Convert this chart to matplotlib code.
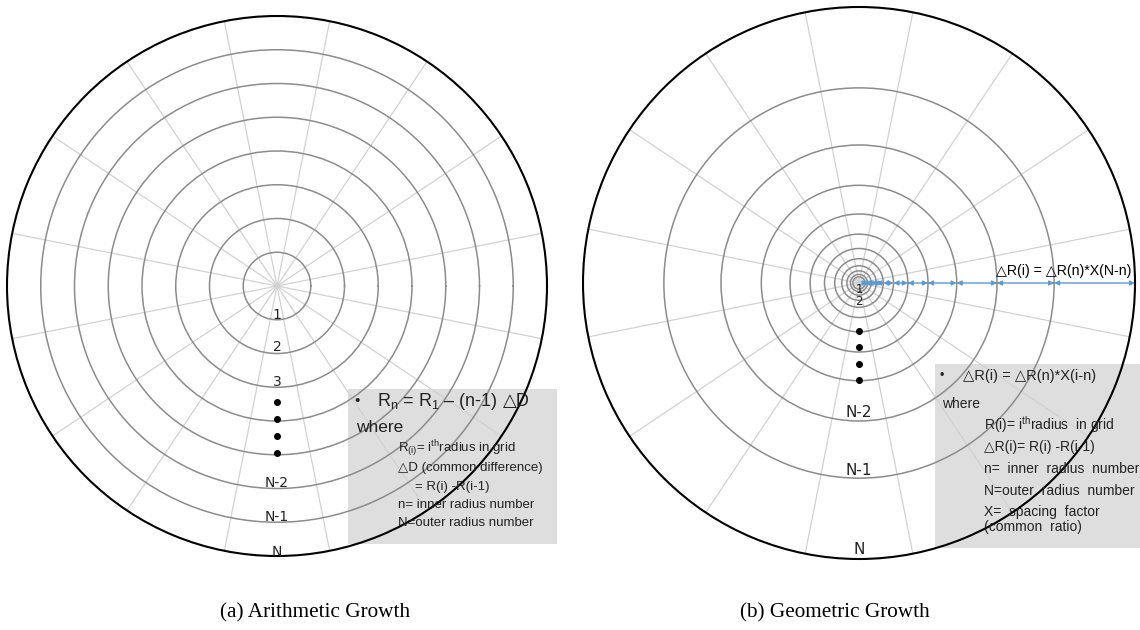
import numpy as np
import matplotlib
matplotlib.use("Agg")
import matplotlib.pyplot as plt
from matplotlib.patches import Rectangle

plt.rcParams['font.family'] = ['Liberation Sans', 'DejaVu Sans']
plt.rcParams['mathtext.fontset'] = 'custom'
plt.rcParams['mathtext.rm'] = 'Liberation Sans'
plt.rcParams['mathtext.it'] = 'Liberation Sans:italic'

W, H = 1140, 630

# 16 radial spokes, offset half a sector from the axes
spoke_angles = [11.25, 33.75, 56.25, 78.75, 101.25, 123.75, 146.25, 168.75,
                191.25, 213.75, 236.25, 258.75, 281.25, 303.75, 326.25, 348.75]

# (a) arithmetic grid: equal spacing, outer boundary at 8
arith_rings = [1, 2, 3, 4, 5, 6, 7]
arith_outer = 8
arith_labels = ['1', '2', '3', 'N-2', 'N-1', 'N']
arith_label_r = [0.86, 1.82, 2.83, 5.83, 6.85, 7.89]
arith_dots_r = [3.45, 3.93, 4.43, 4.94]

# (b) geometric grid: each ring ~0.707 of the next one out
geo_rings = [0.707, 0.5, 0.354, 0.25, 0.177, 0.125, 0.088, 0.0625, 0.044, 0.031, 0.022]
geo_outer = 1.0
geo_labels = ['1', '2', 'N-2', 'N-1', 'N']
geo_label_r = [0.025, 0.066, 0.47, 0.68, 0.964]
geo_label_size = [8.5, 8.5, 11, 11, 11]
geo_dots_r = [0.174, 0.232, 0.293, 0.351]

SPOKE_C = '#d2d2d2'
RING_C = '#8c8c8c'
ARROW_C = '#5b9bd5'
TXT = '#222222'
DOWN = np.deg2rad(270)

fig = plt.figure(figsize=(W / 100, H / 100), dpi=100)


def fx(x):
    return x / W


def fy(y):
    return 1 - y / H


def polar_grid(rect, rings, outer):
    ax = fig.add_axes(rect, projection='polar')
    ax.set_facecolor('none')
    ax.set_ylim(0, outer)
    ax.set_rgrids(rings, labels=[''] * len(rings))
    ax.set_thetagrids(spoke_angles, labels=[''] * len(spoke_angles))
    ax.xaxis.grid(True, color=SPOKE_C, lw=0.9)
    ax.yaxis.grid(True, color=RING_C, lw=1.1)
    ax.tick_params(axis='both', length=0)
    ax.spines['polar'].set_color('black')
    ax.spines['polar'].set_linewidth(1.5)
    return ax


# ---- (a) arithmetic growth ----
axa = polar_grid([fx(7), fy(286 + 270), fx(540), 540 / H], arith_rings, arith_outer)
for lab, r in zip(arith_labels, arith_label_r):
    axa.text(DOWN, r, lab, ha='center', va='center', fontsize=10,
             color=TXT, family='DejaVu Sans', zorder=5)
axa.plot([DOWN] * len(arith_dots_r), arith_dots_r, 'o', color='black', ms=4, zorder=5)

# ---- (b) geometric growth ----
axb = polar_grid([fx(583), fy(283 + 276), fx(552), 552 / H], geo_rings, geo_outer)
for lab, r, s in zip(geo_labels, geo_label_r, geo_label_size):
    axb.text(DOWN, r, lab, ha='center', va='center', fontsize=s,
             color=TXT, family='DejaVu Sans', zorder=5)
axb.plot([DOWN] * len(geo_dots_r), geo_dots_r, 'o', color='black', ms=4, zorder=5)

# dimension arrows between consecutive rings along theta = 0
edges = [geo_outer] + geo_rings
for r_out, r_in in zip(edges[:-1], edges[1:]):
    axb.annotate('', xy=(0, r_out), xytext=(0, r_in),
                 arrowprops=dict(arrowstyle='<|-|>', color=ARROW_C, lw=1,
                                 mutation_scale=7, shrinkA=0, shrinkB=0),
                 zorder=4)
fig.text(fx(996), fy(271), '△R(i) = △R(n)*X(N-n)', fontsize=10.2,
         family=['Liberation Sans', 'DejaVu Sans'], ha='left', va='center', zorder=6)

# ---- explanation boxes (behind the grids) ----
fig.add_artist(Rectangle((fx(348), fy(544)), fx(557 - 348), (544 - 389) / H,
                         transform=fig.transFigure, facecolor='#dedede',
                         edgecolor='none', zorder=-1))
fig.add_artist(Rectangle((fx(935), fy(548)), fx(W - 935), (548 - 364) / H,
                         transform=fig.transFigure, facecolor='#dedede',
                         edgecolor='none', zorder=-1))

fig.text(fx(354), fy(401), '•', fontsize=11, color=TXT, va='center')
fig.text(fx(377), fy(401), r'R$_\mathrm{n}$ = R$_\mathrm{1}$ – (n-1)',
         fontsize=13, color=TXT, va='center')
fig.text(fx(503), fy(401), '△D', fontsize=13, color=TXT, va='center')
fig.text(fx(356), fy(428), 'where', fontsize=12.5, color=TXT, va='center')
left_lines = [
    (398, 449, r'R$_\mathrm{(i)}$= i$^\mathrm{th}$radius in grid'),
    (398, 468, '△D (common difference)'),
    (415, 487, '= R(i) -R(i-1)'),
    (398, 505, 'n= inner radius number'),
    (398, 523, 'N=outer radius number'),
]
for x, y, s in left_lines:
    fig.text(fx(x), fy(y), s, fontsize=9.5, color=TXT, va='center')

fig.text(fx(940), fy(376), '•', fontsize=9, color=TXT, va='center')
fig.text(fx(963), fy(376), '△R(i) = △R(n)*X(i-n)', fontsize=10.5, color=TXT, va='center')
fig.text(fx(942), fy(404), 'where', fontsize=10, color=TXT, va='center')
right_lines = [
    (984, 425, r'R(i)= i$^\mathrm{th}$radius  in grid'),
    (984, 447, '△R(i)= R(i) -R(i-1)'),
    (984, 469, 'n=  inner  radius  number'),
    (984, 491, 'N=outer  radius  number'),
    (984, 512, 'X=  spacing  factor'),
    (984, 527, '(common  ratio)'),
]
for x, y, s in right_lines:
    fig.text(fx(x), fy(y), s, fontsize=10, color=TXT, va='center')

# ---- captions ----
fig.text(fx(315), fy(613), '(a) Arithmetic Growth', fontsize=15.3,
         family='Liberation Serif', ha='center', va='center')
fig.text(fx(835), fy(613), '(b) Geometric Growth', fontsize=15.3,
         family='Liberation Serif', ha='center', va='center')

fig.savefig('out.png', dpi=100, facecolor='white')
